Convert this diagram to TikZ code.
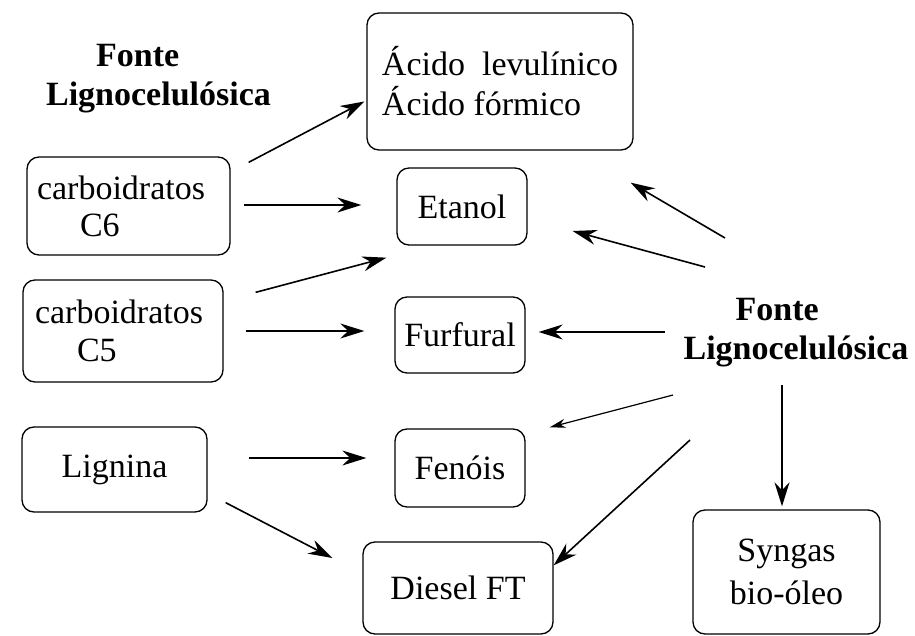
\documentclass[tikz,border=0pt]{standalone}
\usepackage{fontspec}
\setmainfont{Liberation Serif}
\usetikzlibrary{arrows.meta}

\tikzset{
  box/.style={draw, rounded corners=12pt, line width=1.3pt, inner ysep=0pt, inner xsep=0pt, align=left},
  src/.style={font=\fontsize{34}{39}\selectfont\bfseries, align=left},
  flow/.style={->, line width=1.6pt},
  thinflow/.style={-{Stealth[length=16pt,width=9pt]}, line width=1.2pt},
}

\begin{document}
\begin{tikzpicture}[>={Stealth[length=24pt,width=15pt]},x=1pt,y=-1pt,font=\fontsize{34}{37}\selectfont]
\useasboundingbox (0,0) rectangle (915,636);

% fontes
\node (fonteL) at (158.5,79) [src] {\hspace{50pt}Fonte\\Lignocelulósica};
\node (fonteR) at (796,333) [src] {\hspace{52pt}Fonte\\Lignocelulósica};

% materias primas
\node (c6) at (128.5,206) [box,text width=183pt,inner xsep=10pt,minimum height=98pt] {carboidratos\\\hspace{43pt}C6};
\node (c5) at (123,331) [box,text width=176pt,inner xsep=12pt,minimum height=102pt,font=\fontsize{34}{38}\selectfont] {carboidratos\\\hspace{42pt}C5};
\node (lignina) at (114.5,469.5) [box,minimum width=185pt,minimum height=85pt] {Lignina};

% produtos
\node (acido) at (500,81.5) [box,minimum width=266pt,minimum height=137pt,font=\fontsize{34}{40}\selectfont] {Ácido\ \ levulínico\\Ácido fórmico};
\node (etanol) at (462,206.5) [box,minimum width=130pt,minimum height=77pt] {Etanol};
\node (furfural) at (460,335) [box,minimum width=130pt,minimum height=76pt] {Furfural};
\node (fenois) at (460,468) [box,minimum width=130pt,minimum height=78pt] {Fenóis};
\node (diesel) at (458,588) [box,minimum width=190pt,minimum height=92pt] {Diesel FT};
\node (syngas) at (786.5,572) [box,minimum width=187pt,minimum height=124pt,align=center,font=\fontsize{34}{43}\selectfont] {Syngas\\bio-óleo};

% lado esquerdo
\draw[flow] ([shift={(18,6)}]c6.north east) -- ([shift={(-2,20)}]acido.west);
\draw[flow] ([shift={(13,-1)}]c6.east) -- ([shift={(-35,-1.5)}]etanol.west);
\draw[flow] ([shift={(32,13)}]c5.north east) -- ([shift={(-10,12)}]etanol.south west);
\draw[flow] ([xshift=22]c5.east) -- ([shift={(-30,-4)}]furfural.west);
\draw[flow] ([shift={(41,-11.5)}]lignina.east) -- ([shift={(-28,-10)}]fenois.west);
\draw[flow] ([shift={(18,-10)}]lignina.south east) -- ([shift={(-30,-30)}]diesel.west);

% lado direito
\draw[flow] ([shift={(-71,-95)}]fonteR.center) -- ([shift={(-3,32)}]acido.south east);
\draw[flow] ([shift={(-91,-66)}]fonteR.center) -- ([shift={(45,24.5)}]etanol.east);
\draw[flow] ([shift={(-131,-1)}]fonteR.center) -- ([shift={(13,-3)}]furfural.east);
\draw[thinflow] ([shift={(-123,62)}]fonteR.center) -- ([shift={(24,-1)}]fenois.north east);
\draw[flow] ([shift={(-106,107)}]fonteR.center) -- ([yshift=-24]diesel.north east);
\draw[flow] ([shift={(-14,52)}]fonteR.center) -- ([shift={(-4.5,-3)}]syngas.north);

\end{tikzpicture}
\end{document}
